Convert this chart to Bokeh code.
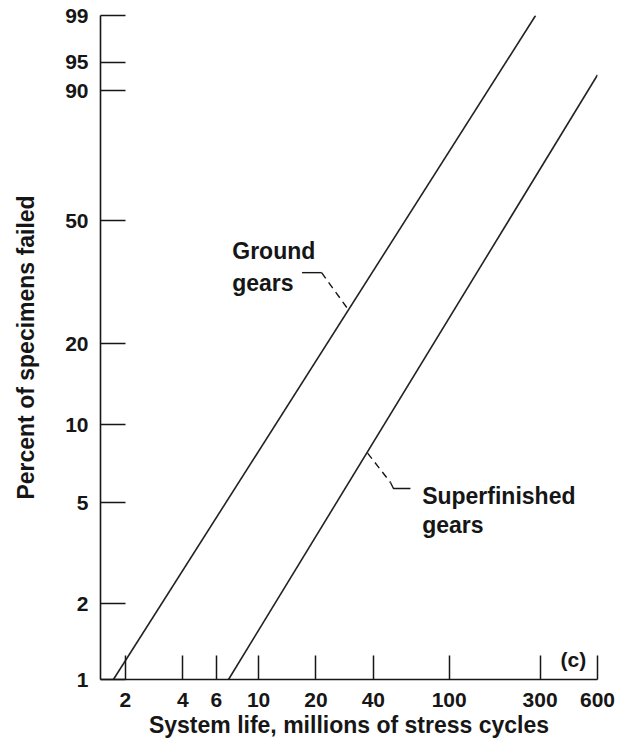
import numpy as np
from bokeh.plotting import figure
from bokeh.models import FixedTicker, NumeralTickFormatter, Label, Range1d
from bokeh.embed import file_html
from bokeh.resources import INLINE

# ---- data ----
x_ticks = [2, 4, 6, 10, 20, 40, 100, 300, 600]
x_tick_labels = ["2", "4", "6", "10", "20", "40", "100", "300", "600"]
y_ticks_pct = [1, 2, 5, 10, 20, 50, 90, 95, 99]
y_tick_labels = ["1", "2", "5", "10", "20", "50", "90", "95", "99"]

x_limits = [1.48, 600]
y_limits_pct = [1, 99]

ground_life = [1.73, 284]
ground_pct = [1, 99]
super_life = [6.95, 600]
super_pct = [1, 93]

# annotation anchors (life, percent)
ground_text = ["Ground", "gears"]
ground_text_life = [7.27, 7.27]
ground_text_pct = [40.9, 32.4]
ground_leader_h_life = [16.9, 21.4]
ground_leader_h_pct = [34.9, 34.9]
ground_leader_d_life = [21.4, 29.3]
ground_leader_d_pct = [34.9, 26.5]

super_text = ["Superfinished", "gears"]
super_text_life = [72.1, 72.1]
super_text_pct = [5.31, 4.09]
super_leader_d_life = [37.3, 49.2]
super_leader_d_pct = [7.8, 6.0]
super_leader_h_life = [49.2, 51.0, 62.6]
super_leader_h_pct = [6.0, 5.69, 5.69]

panel_tag = "(c)"
panel_tag_life = 383.5
panel_tag_pct = 1.2

x_title = "System life, millions of stress cycles"
y_title = "Percent of specimens failed"


def weibull(pct):
    f = np.asarray(pct, dtype=float) / 100.0
    return np.log(-np.log(1.0 - f))


FONT = "Liberation Sans"
INK = "#161616"

W, H = 629, 744
p = figure(width=W, height=H, x_axis_type="log",
           x_range=Range1d(*x_limits),
           y_range=Range1d(float(weibull(y_limits_pct[0])), float(weibull(y_limits_pct[1]))),
           output_backend="svg", toolbar_location=None,
           min_border_left=100, min_border_right=32, min_border_top=15, min_border_bottom=65)
p.outline_line_color = None
p.xgrid.visible = False
p.ygrid.visible = False
p.background_fill_color = "white"
p.border_fill_color = "white"

# axes
p.xaxis.ticker = FixedTicker(ticks=x_ticks, minor_ticks=[])
p.xaxis.formatter = NumeralTickFormatter(format="0")
p.xaxis.major_label_overrides = {t: l for t, l in zip(x_ticks, x_tick_labels)}
y_tick_vals = [float(v) for v in weibull(y_ticks_pct)]
p.yaxis.ticker = FixedTicker(ticks=y_tick_vals, minor_ticks=[])
p.yaxis.major_label_overrides = {t: l for t, l in zip(y_tick_vals, y_tick_labels)}

for ax in (p.xaxis[0], p.yaxis[0]):
    ax.axis_line_color = INK
    ax.axis_line_width = 1.6
    ax.major_tick_line_color = INK
    ax.major_tick_line_width = 1.5
    ax.major_tick_out = 0
    ax.minor_tick_in = 0
    ax.minor_tick_out = 0
    ax.major_label_text_font = FONT
    ax.major_label_text_font_size = "21px"
    ax.major_label_text_font_style = "bold"
    ax.major_label_text_color = INK
    ax.axis_label_text_font = FONT
    ax.axis_label_text_font_size = "23px"
    ax.axis_label_text_font_style = "bold"
    ax.axis_label_text_color = INK
p.xaxis.major_label_standoff = 13
p.yaxis.major_label_standoff = 12
p.xaxis.major_tick_in = 24
p.yaxis.major_tick_in = 25
p.xaxis.axis_label = x_title
p.yaxis.axis_label = y_title
p.xaxis.axis_label_standoff = 2
p.yaxis.axis_label_standoff = 23

# data lines
p.line(ground_life, weibull(ground_pct), line_color="#222222", line_width=1.6)
p.line(super_life, weibull(super_pct), line_color="#222222", line_width=1.6)

# leaders
p.line(ground_leader_h_life, weibull(ground_leader_h_pct), line_color=INK, line_width=1.4)
p.line(ground_leader_d_life, weibull(ground_leader_d_pct), line_color=INK, line_width=1.4, line_dash="7 5")
p.line(super_leader_d_life, weibull(super_leader_d_pct), line_color=INK, line_width=1.4, line_dash="7 5")
p.line(super_leader_h_life, weibull(super_leader_h_pct), line_color=INK, line_width=1.4)

# annotation texts
for txt, xl, yp in list(zip(ground_text, ground_text_life, ground_text_pct)) + \
        list(zip(super_text, super_text_life, super_text_pct)):
    p.add_layout(Label(x=xl, y=float(weibull(yp)), text=txt, text_font=FONT,
                       text_font_size="23px", text_font_style="bold", text_color=INK,
                       text_align="left", text_baseline="alphabetic"))

p.add_layout(Label(x=panel_tag_life, y=float(weibull(panel_tag_pct)), text=panel_tag,
                   text_font=FONT, text_font_size="21px", text_font_style="bold",
                   text_color=INK, text_align="left", text_baseline="alphabetic"))

open("out.html", "w").write(file_html(p, INLINE))
